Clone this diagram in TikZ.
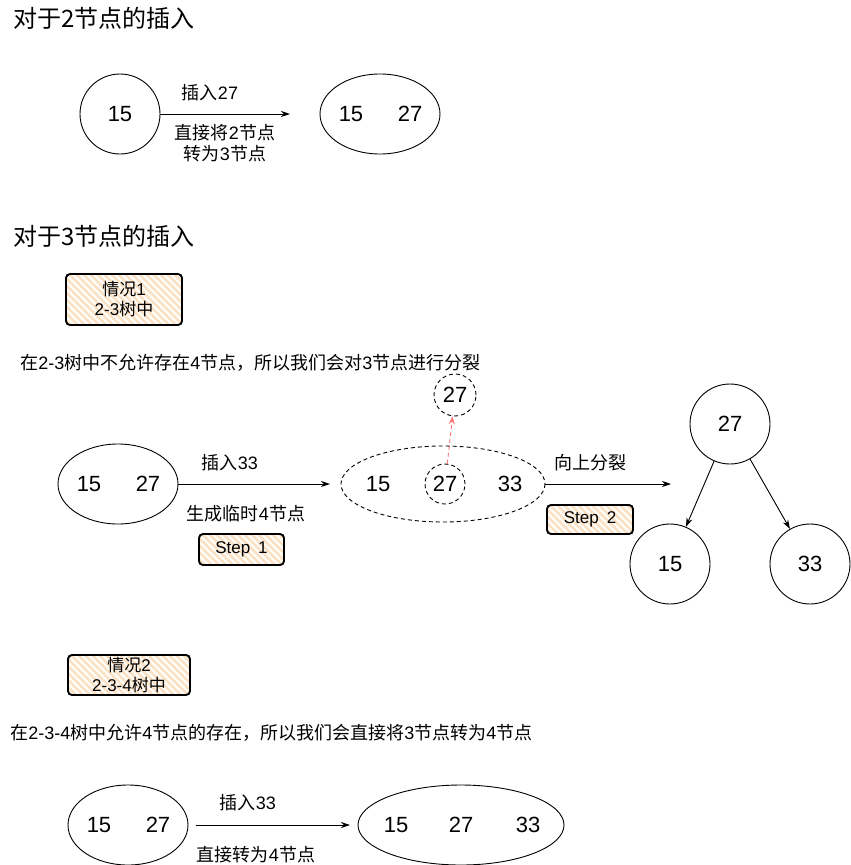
\documentclass[tikz,border=0pt]{standalone}
\usepackage{fontspec}
\setmainfont{Liberation Sans}
\newfontfamily\cjk{Noto Sans CJK SC}
\usetikzlibrary{arrows.meta}
\definecolor{hatch}{RGB}{252,226,196}
\newcommand{\skbox}[5]{%
  \begin{scope}
    \clip[rounded corners=4pt] (#1,#2) rectangle (#3,#4);
    \fill[white] (#1,#2) rectangle (#3,#4);
    \foreach \k in {-200,-193,...,200} {\draw[hatch,line width=2.8pt] ({#1+\k},#2) -- ++(80,80);}
  \end{scope}
  \draw[sketch] (#1,#2) rectangle (#3,#4);
  \node[align=center,boxtxt] at ({(#1+#3)/2},{(#2+#4)/2}) {#5};
}
\begin{document}
\begin{tikzpicture}[x=1pt,y=-1pt,
  every node/.style={inner sep=0pt},
  line width=0.9pt,
  circ/.style={draw,circle,minimum size=80pt,font=\fontsize{22}{26}\selectfont},
  num/.style={font=\fontsize{22}{26}\selectfont},
  lbl/.style={font=\fontsize{18}{21}\selectfont},
  boxtxt/.style={font=\fontsize{17}{20}\selectfont},
  title/.style={font=\fontsize{24}{28}\selectfont,anchor=west},
  arr/.style={-{Stealth[length=9pt,width=6pt]},line width=0.9pt},
  sketch/.style={line width=1.9pt,rounded corners=4pt},
  dashline/.style={dash pattern=on 4pt off 3pt}
]
\useasboundingbox (0,0) rectangle (851,865);

% Section 1
\node[title] (t1) at (13,18) {\cjk 对于2节点的插入};
\node[circ] (a) at (120,114) {15};
\draw (380,114) ellipse (60 and 40);
\node[num] (b1) at (351,114) {15};
\node[num] (b2) at (410,114) {27};
\coordinate (bl) at (290,114);
\draw[arr] (a) -- (bl);
\node[lbl] at (210,93) {{\cjk 插入}27};
\node[lbl,align=center] at (225,143) {{\cjk 直接将}2{\cjk 节点}\\{\cjk 转为}3{\cjk 节点}};

% Section 2
\node[title] (t2) at (13,236) {\cjk 对于3节点的插入};
\skbox{66}{274}{182}{325}{{\cjk 情况}1\\2-3{\cjk 树中}}
\node[lbl,anchor=west] (d1) at (20,363) {{\cjk 在}2-3{\cjk 树中不允许存在}4{\cjk 节点，所以我们会对}3{\cjk 节点进行分裂}};

\draw (118,484) ellipse (60 and 40);
\node[num] at (89,484) {15};
\node[num] at (148,484) {27};
\coordinate (c1) at (178,484);
\coordinate (c2) at (330,484);
\draw[arr] (c1) -- (c2);
\node[lbl] at (230,463) {{\cjk 插入}33};
\node[lbl] at (246,514) {{\cjk 生成临时}4{\cjk 节点}};
\skbox{199}{534}{284}{565}{Step\hspace{8pt}1}

\draw[dashline] (443,484) ellipse (102 and 38);
\node[num] at (378,484) {15};
\node[num,draw,circle,dashline,minimum size=40pt] (m) at (445,484) {27};
\node[num] at (510,484) {33};
\node[num,draw,circle,dashline,minimum size=42pt] (up) at (455,395) {27};
\draw[-{Stealth[length=8pt,width=6pt]},red!55,dashline,line width=0.9pt] (m) -- (up);

\coordinate (e1) at (545,484);
\coordinate (e2) at (671,484);
\draw[arr] (e1) -- (e2);
\node[lbl] at (590,463) {\cjk 向上分裂};
\skbox{547}{505}{633}{534}{Step\hspace{8pt}2}

\node[circ] (r) at (730,424) {27};
\node[circ] (l) at (670,564) {15};
\node[circ] (rr) at (810,564) {33};
\draw[arr] (r) -- (l);
\draw[arr] (r) -- (rr);

% Case 2
\skbox{68}{655}{190}{695}{{\cjk 情况}2\\2-3-4{\cjk 树中}}
\node[lbl,anchor=west] (d2) at (10,733) {{\cjk 在}2-3-4{\cjk 树中允许}4{\cjk 节点的存在，所以我们会直接将}3{\cjk 节点转为}4{\cjk 节点}};

\draw (128,825) ellipse (60 and 40);
\node[num] at (99,825) {15};
\node[num] at (158,825) {27};
\coordinate (f1) at (196,825);
\coordinate (f2) at (350,825);
\draw[arr] (f1) -- (f2);
\node[lbl] at (248,803) {{\cjk 插入}33};
\node[lbl] at (256,855) {{\cjk 直接转为}4{\cjk 节点}};
\draw (461,825) ellipse (103 and 40);
\node[num] at (396,825) {15};
\node[num] at (461,825) {27};
\node[num] at (528,825) {33};
\end{tikzpicture}
\end{document}
